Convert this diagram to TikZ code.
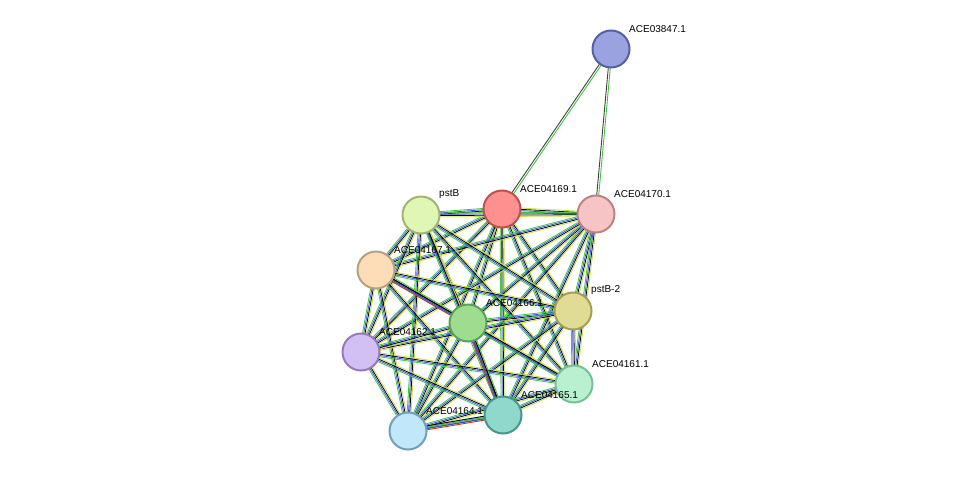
\documentclass[tikz,border=0pt]{standalone}
\usepackage{fontspec}
\setmainfont{Liberation Sans}
\usetikzlibrary{calc}
\definecolor{eGreen}{HTML}{3CC83C}
\definecolor{eBlue}{HTML}{3C50F0}
\definecolor{eYel}{HTML}{C8E040}
\definecolor{eRed}{HTML}{E02828}
\tikzset{
  prot/.style={circle,draw,line width=2pt,minimum size=37pt,inner sep=0pt},
  lab/.style={font=\fontsize{10}{11}\selectfont,anchor=south west,inner sep=1pt}
}
\newcommand\link[3]{\foreach \c [count=\k] in {#3}{%
  \pgfmathsetmacro\off{(\k-2.5)*1.3}%
  \draw[\c,line width=0.8pt] ($(#1)!\off pt!90:(#2)$) -- ($(#2)!\off pt!-90:(#1)$);}}
\begin{document}
\begin{tikzpicture}[x=1pt,y=-1pt]
  \useasboundingbox (0,0) rectangle (976,477);
  % nodes
  \coordinate (n47) at (611,49);
  \coordinate (n69) at (502,209);
  \coordinate (n70) at (596,214);
  \coordinate (nB) at (421,215);
  \coordinate (n67) at (376,270);
  \coordinate (nB2) at (573,311);
  \coordinate (n66) at (468,323);
  \coordinate (n62) at (361,352);
  \coordinate (n61) at (574,384);
  \coordinate (n65) at (503,415);
  \coordinate (n64) at (408,431);
  % edges
  \foreach \a [count=\i] in {n69,n70,nB,n67,nB2,n66,n62,n61,n65,n64}{
    \foreach \b [count=\j] in {n69,n70,nB,n67,nB2,n66,n62,n61,n65,n64}{
      \ifnum\j>\i \link{\a}{\b}{eGreen,eBlue,black,eYel}\fi
    }}
  \link{n66}{n65}{eRed,eBlue,black,eGreen}
  \link{n67}{n66}{eRed,eBlue,black,eGreen}
  \link{n64}{n65}{eRed,eBlue,eGreen,black}
  \draw[eGreen,line width=0.9pt] ($(n47)!1pt!90:(n69)$) -- ($(n69)!1pt!-90:(n47)$);
  \draw[black!75,line width=0.9pt] ($(n47)!-1pt!90:(n69)$) -- ($(n69)!-1pt!-90:(n47)$);
  \draw[eGreen,line width=0.9pt] ($(n47)!1pt!90:(n70)$) -- ($(n70)!1pt!-90:(n47)$);
  \draw[black!75,line width=0.9pt] ($(n47)!-1pt!90:(n70)$) -- ($(n70)!-1pt!-90:(n47)$);
  % proteins
  \node[prot,draw={rgb,255:red,85;green,95;blue,165},fill={rgb,255:red,154;green,163;blue,224}] (p47) at (n47) {};
  \node[prot,draw={rgb,255:red,190;green,80;blue,80},fill={rgb,255:red,255;green,144;blue,144}] (p69) at (n69) {};
  \node[prot,draw={rgb,255:red,190;green,130;blue,130},fill={rgb,255:red,246;green,196;blue,196}] (p70) at (n70) {};
  \node[prot,draw={rgb,255:red,160;green,180;blue,110},fill={rgb,255:red,224;green,246;blue,180}] (pB) at (nB) {};
  \node[prot,draw={rgb,255:red,180;green,160;blue,130},fill={rgb,255:red,253;green,220;blue,184}] (p67) at (n67) {};
  \node[prot,draw={rgb,255:red,160;green,160;blue,80},fill={rgb,255:red,224;green,220;blue,150}] (pB2) at (nB2) {};
  \node[prot,draw={rgb,255:red,90;green,160;blue,90},fill={rgb,255:red,160;green,220;blue,144}] (p66) at (n66) {};
  \node[prot,draw={rgb,255:red,150;green,120;blue,190},fill={rgb,255:red,210;green,192;blue,245}] (p62) at (n62) {};
  \node[prot,draw={rgb,255:red,120;green,190;blue,150},fill={rgb,255:red,184;green,240;blue,208}] (p61) at (n61) {};
  \node[prot,draw={rgb,255:red,70;green,150;blue,140},fill={rgb,255:red,144;green,216;blue,204}] (p65) at (n65) {};
  \node[prot,draw={rgb,255:red,110;green,160;blue,190},fill={rgb,255:red,192;green,232;blue,250}] (p64) at (n64) {};
  % labels
  \node[lab] at (628,34) {ACE03847.1};
  \node[lab] at (519,194) {ACE04169.1};
  \node[lab] at (613,199) {ACE04170.1};
  \node[lab] at (438,200) {pstB};
  \node[lab] at (393,255) {ACE04167.1};
  \node[lab] at (590,296) {pstB-2};
  \node[lab] at (485,308) {ACE04166.1};
  \node[lab] at (378,337) {ACE04162.1};
  \node[lab] at (591,369) {ACE04161.1};
  \node[lab] at (520,400) {ACE04165.1};
  \node[lab] at (425,416) {ACE04164.1};
\end{tikzpicture}
\end{document}
